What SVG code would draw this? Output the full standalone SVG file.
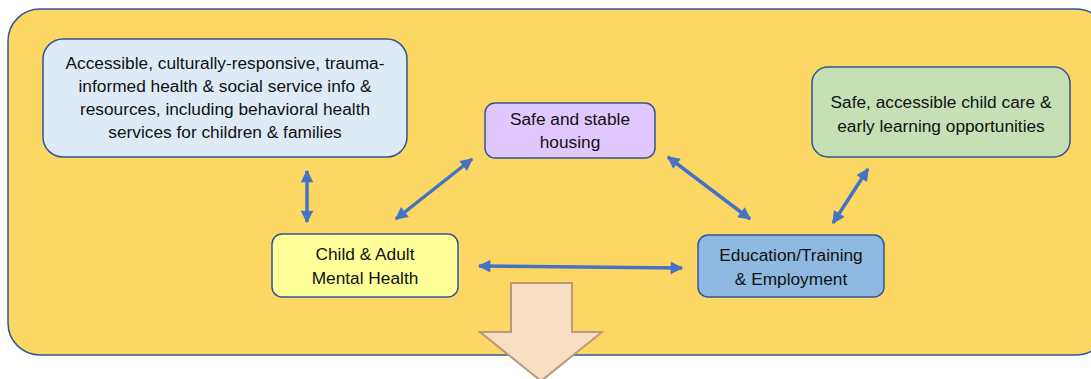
<svg xmlns="http://www.w3.org/2000/svg" width="1091" height="379" viewBox="0 0 1091 379">
<defs>
<style>
.node{stroke:#2F5597;stroke-width:1.5}
.t{font-family:"Liberation Sans",Arial,sans-serif;font-size:17.3px;fill:#111;text-anchor:middle}
.c{stroke:#4472C4;stroke-width:3.5;fill:none;marker-start:url(#ah);marker-end:url(#ah)}
</style>
<marker id="ah" viewBox="0 0 10 10" refX="9" refY="5" markerWidth="3.8" markerHeight="3.6" orient="auto-start-reverse" markerUnits="strokeWidth">
<path d="M0,0 L10,5 L0,10 Z" fill="#4472C4"/>
</marker>
</defs>
<rect id="background" x="8" y="9" width="1100" height="346" rx="32" ry="32" fill="#FDD764" stroke="#2F5597" stroke-width="1.5"/>
<g id="connectors">
<line class="c" x1="307" y1="171" x2="307" y2="222"/>
<line class="c" x1="396" y1="219" x2="472" y2="159"/>
<line class="c" x1="668" y1="157" x2="750" y2="219"/>
<line class="c" x1="868" y1="169" x2="833" y2="223"/>
<line class="c" x1="479" y1="266" x2="682" y2="268"/>
</g>
<g id="node-services">
<rect class="node" x="43" y="39" width="364" height="118" rx="20" fill="#DEEBF7"/>
<text class="t" x="225" y="69">Accessible, culturally-responsive, trauma-</text>
<text class="t" x="225" y="92">informed health &amp; social service info &amp;</text>
<text class="t" x="225" y="115">resources, including behavioral health</text>
<text class="t" x="225" y="138">services for children &amp; families</text>
</g>
<g id="node-housing">
<rect class="node" x="485" y="103" width="170" height="55" rx="10" fill="#E0C8FF"/>
<text class="t" x="570" y="125">Safe and stable</text>
<text class="t" x="570" y="148">housing</text>
</g>
<g id="node-childcare">
<rect class="node" x="812" y="67" width="258" height="90" rx="16" fill="#C5E0B4"/>
<text class="t" x="941" y="108">Safe, accessible child care &amp;</text>
<text class="t" x="941" y="132">early learning opportunities</text>
</g>
<g id="node-mental">
<rect class="node" x="272" y="234" width="186" height="63" rx="10" fill="#FFFF99"/>
<text class="t" x="365" y="260">Child &amp; Adult</text>
<text class="t" x="365" y="284">Mental Health</text>
</g>
<g id="node-education">
<rect class="node" x="698" y="235" width="186" height="62" rx="10" fill="#8FB9E0"/>
<text class="t" x="791" y="261">Education/Training</text>
<text class="t" x="791" y="285">&amp; Employment</text>
</g>
<g id="big-arrow">
<path d="M511,283 L572,283 L572,332 L602,332 L541,381 L480,332 L511,332 Z" fill="#F8DFC3" stroke="#B8997A" stroke-width="2"/>
</g>
</svg>
